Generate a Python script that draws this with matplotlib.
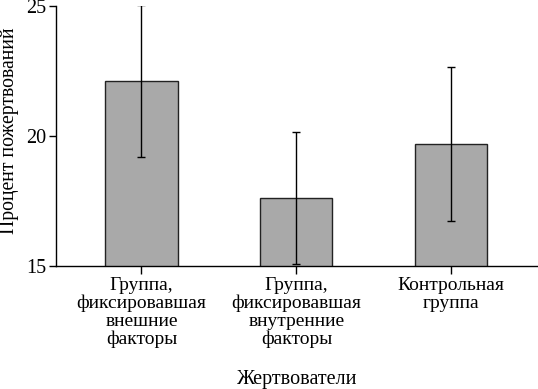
import matplotlib
matplotlib.use("Agg")
import matplotlib.pyplot as plt
import numpy as np

categories = ["Группа,\nфиксировавшая\nвнешние\nфакторы",
              "Группа,\nфиксировавшая\nвнутренние\nфакторы",
              "Контрольная\nгруппа"]
values = [22.13, 17.62, 19.69]
errors = [2.92, 2.54, 2.96]
yticks = [15, 20, 25]

plt.rcParams['font.family'] = ['Liberation Serif', 'DejaVu Serif']

fig = plt.figure(figsize=(5.38, 3.89), dpi=100)
ax = fig.add_axes([56/538, (389-266)/389, (538-56)/538, 260/389])

x = np.arange(len(categories))
ax.bar(x, values, width=0.465, color='#a9a9a9', edgecolor='#222222', linewidth=1.0,
       bottom=0, zorder=2)
ax.errorbar(x, values, yerr=errors, fmt='none', ecolor='black', elinewidth=1.0,
            capsize=3, capthick=1.0, zorder=3)

ax.set_ylim(15, 25)
ax.set_xlim(-0.552, 2.56)
ax.set_yticks(yticks)
ax.set_xticks(x)
ax.set_xticklabels(categories, fontsize=14, linespacing=1.05)
ax.tick_params(axis='y', labelsize=14.5, length=5, width=1, pad=2, direction='out')
ax.tick_params(axis='x', length=6, width=1, pad=2, direction='out')
for s in ['top', 'right']:
    ax.spines[s].set_visible(False)
for s in ['left', 'bottom']:
    ax.spines[s].set_linewidth(1.0)

ax.set_ylabel("Процент пожертвований", fontsize=14.2)
ax.yaxis.label.set_verticalalignment('center')
ax.yaxis.set_label_coords(-0.098, 0.52)
ax.set_xlabel("Жертвователи", fontsize=14.5)
ax.xaxis.set_label_coords(0.5, -0.40)

fig.savefig("out.png", dpi=100)
